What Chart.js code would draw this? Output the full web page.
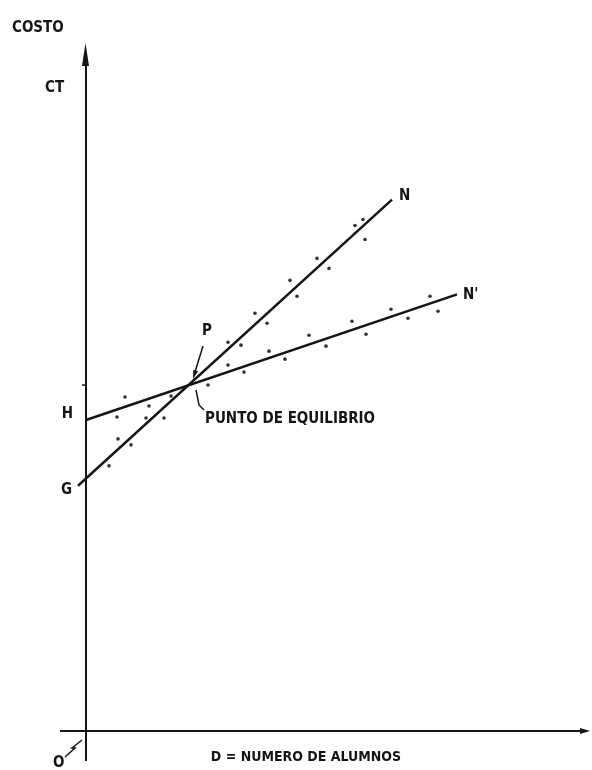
<!DOCTYPE html>
<html>
<head>
<meta charset="utf-8">
<script src="https://cdn.jsdelivr.net/npm/chart.js@4.4.0/dist/chart.umd.min.js"></script>
<style>
  body { margin: 0; background: #fff; }
  canvas { display: block; }
</style>
</head>
<body>
<canvas id="equilibrio" width="592" height="770"></canvas>
<script>
// lineas de costo (extremos), en unidades del grafico
const rectaGN_x = [-1.6, 61.2];
const rectaGN_y = [49.2, 106.6];
const rectaHN_x = [0, 74.2];
const rectaHN_y = [62.4, 87.6];

// puntos observados alrededor de G-N
const puntosA_x = [53.8, 55.4, 55.8, 46.2, 48.6, 40.8, 42.2, 33.8, 36.2, 28.4, 31.0, 17.0, 12.6, 15.6, 12.0, 6.4, 9.0, 4.6];
const puntosA_y = [101.4, 102.6, 98.6, 94.8, 92.8, 90.4, 87.2, 83.8, 81.8, 78.0, 77.4, 67.2, 65.2, 62.8, 62.8, 58.6, 57.4, 53.2];

// puntos observados alrededor de H-N'
const puntosB_x = [68.8, 70.4, 61.0, 64.4, 53.2, 56.0, 44.6, 48.0, 36.6, 39.8, 28.4, 31.6, 24.4, 7.8, 6.2];
const puntosB_y = [87.2, 84.2, 84.6, 82.8, 82.2, 79.6, 79.4, 77.2, 76.2, 74.6, 73.4, 72.0, 69.4, 67.0, 63.0];

const toPoints = (xs, ys) => xs.map((x, i) => ({ x: x, y: ys[i] }));

const FONT = "bold 15px 'Liberation Sans Narrow', 'DejaVu Sans Condensed', sans-serif";
const INK = '#151515';

function arrowHead(ctx, tipX, tipY, dx, dy, len, half) {
    // dx,dy = direction unit vector pointing to the tip
    const bx = tipX - dx * len, by = tipY - dy * len;
    ctx.beginPath();
    ctx.moveTo(tipX, tipY);
    ctx.lineTo(bx - dy * half, by + dx * half);
    ctx.lineTo(bx + dy * half, by - dx * half);
    ctx.closePath();
    ctx.fill();
}

const axesPlugin = {
    id: 'ejes',
    beforeDatasetsDraw: function (chart) {
        const ctx = chart.ctx;
        const xs = chart.scales.x, ys = chart.scales.y;
        const x0 = xs.getPixelForValue(0), y0 = ys.getPixelForValue(0);
        ctx.save();
        ctx.strokeStyle = INK;
        ctx.fillStyle = INK;
        ctx.lineWidth = 2;
        // eje vertical
        const yTop = ys.getPixelForValue(138);
        ctx.beginPath();
        ctx.moveTo(x0, ys.getPixelForValue(-6));
        ctx.lineTo(x0, yTop + 10);
        ctx.stroke();
        arrowHead(ctx, x0 - 0.5, yTop, 0, -1, 23, 3.5);
        // eje horizontal
        const xEnd = xs.getPixelForValue(100.8);
        ctx.beginPath();
        ctx.moveTo(xs.getPixelForValue(-5.2), y0);
        ctx.lineTo(xEnd - 6, y0);
        ctx.stroke();
        arrowHead(ctx, xEnd, y0, 1, 0, 10, 3);
        // marca en el eje a la altura del equilibrio
        const yp = ys.getPixelForValue(69.4);
        ctx.lineWidth = 1.5;
        ctx.beginPath();
        ctx.moveTo(x0 - 4, yp);
        ctx.lineTo(x0, yp);
        ctx.stroke();
        ctx.restore();
    },
    afterDraw: function (chart) {
        const ctx = chart.ctx;
        const xs = chart.scales.x, ys = chart.scales.y;
        const px = v => xs.getPixelForValue(v);
        const py = v => ys.getPixelForValue(v);
        ctx.save();
        ctx.fillStyle = INK;
        ctx.strokeStyle = INK;
        ctx.font = FONT;
        ctx.textBaseline = 'middle';

        ctx.textAlign = 'left';
        ctx.fillText('COSTO', 12, 28);
        ctx.fillText('CT', 45, 88);
        ctx.textAlign = 'right';
        ctx.fillText('H', px(rectaHN_x[0]) - 13, py(rectaHN_y[0]) - 6);
        ctx.fillText('G', px(rectaGN_x[0]) - 6, py(rectaGN_y[0]) + 4);
        ctx.textAlign = 'left';
        ctx.fillText('N', px(rectaGN_x[1]) + 7, py(rectaGN_y[1]) - 3);
        ctx.fillText("N'", px(rectaHN_x[1]) + 6, py(rectaHN_y[1]) + 1);

        // P y punto de equilibrio
        ctx.fillText('P', 202, 331);
        ctx.lineWidth = 1.5;
        ctx.beginPath();
        ctx.moveTo(203, 346);
        ctx.lineTo(195, 372);
        ctx.stroke();
        arrowHead(ctx, 193, 379, -0.3, 0.95, 9, 2.5);
        ctx.beginPath();
        ctx.moveTo(196, 390);
        ctx.lineTo(199, 405);
        ctx.lineTo(204, 410);
        ctx.stroke();
        ctx.fillText('PUNTO DE EQUILIBRIO', 205, 419);

        // origen
        ctx.fillText('O', 53, 763);
        ctx.beginPath();
        ctx.moveTo(65, 757);
        ctx.lineTo(75, 748);
        ctx.lineTo(72, 748);
        ctx.lineTo(82, 740);
        ctx.stroke();

        ctx.font = "bold 14px 'Liberation Sans Narrow', 'DejaVu Sans Condensed', sans-serif";
        ctx.textAlign = 'center';
        ctx.fillText('D = NUMERO DE ALUMNOS', 306, 757);
        ctx.restore();
    }
};

new Chart(document.getElementById('equilibrio').getContext('2d'), {
    type: 'scatter',
    data: {
        datasets: [
            {
                label: 'G-N',
                data: toPoints(rectaGN_x, rectaGN_y),
                showLine: true,
                borderColor: INK,
                borderWidth: 2.5,
                pointRadius: 0
            },
            {
                label: "H-N'",
                data: toPoints(rectaHN_x, rectaHN_y),
                showLine: true,
                borderColor: INK,
                borderWidth: 2.5,
                pointRadius: 0
            },
            {
                label: 'puntos A',
                data: toPoints(puntosA_x, puntosA_y),
                backgroundColor: '#333',
                borderWidth: 0,
                pointRadius: 1.8
            },
            {
                label: 'puntos B',
                data: toPoints(puntosB_x, puntosB_y),
                backgroundColor: '#333',
                borderWidth: 0,
                pointRadius: 1.8
            }
        ]
    },
    options: {
        responsive: false,
        animation: false,
        layout: { padding: { left: 56, right: 6, top: 48, bottom: 2 } },
        plugins: {
            legend: { display: false },
            tooltip: { enabled: false }
        },
        scales: {
            x: { type: 'linear', min: -6, max: 100, display: false },
            y: { type: 'linear', min: -7, max: 137, display: false }
        },
        elements: { line: { tension: 0 } }
    },
    plugins: [axesPlugin]
});
</script>
</body>
</html>
